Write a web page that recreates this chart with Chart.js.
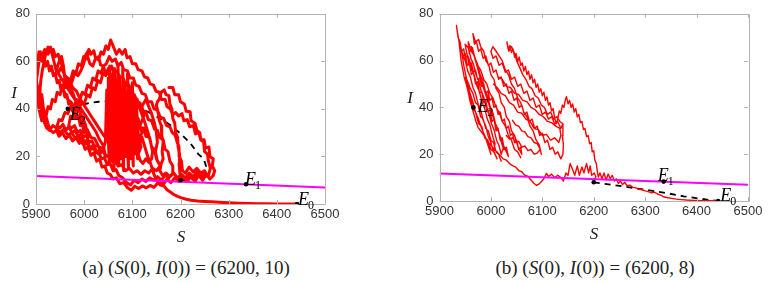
<!DOCTYPE html>
<html><head><meta charset="utf-8">
<script src="https://cdn.jsdelivr.net/npm/chart.js@4"></script>
<style>
html,body{margin:0;padding:0;background:#fff;}
#wrap{position:relative;width:771px;height:282px;background:#fff;overflow:hidden;}
canvas{position:absolute;top:0;}
.t{position:absolute;transform:translate(-50%,-50%);font-family:'Liberation Serif',serif;color:#222;white-space:nowrap;line-height:1;}
.ax{font-size:17px;font-style:italic;}
.cap{font-size:19px;}
</style></head><body>
<div id="wrap">
<canvas id="ca" width="345" height="230" style="left:0px"></canvas>
<canvas id="cb" width="380" height="230" style="left:390px"></canvas>
<div class="t ax" style="left:14px;top:92px">I</div>
<div class="t ax" style="left:181px;top:236px">S</div>
<div class="t ax" style="left:410px;top:97px">I</div>
<div class="t ax" style="left:594px;top:233px">S</div>
<div class="t cap" style="left:186px;top:267px">(a) (<i>S</i>(0), <i>I</i>(0)) = (6200, 10)</div>
<div class="t cap" style="left:595px;top:267px">(b) (<i>S</i>(0), <i>I</i>(0)) = (6200, 8)</div>
</div>
<script>
// ---- data ----
const xTicks = [5900, 6000, 6100, 6200, 6300, 6400, 6500];
const yTicks = [0, 20, 40, 60, 80];
const eqS = [6442, 6336, 5966];
const eqI = [0, 8.3, 40];
const eqSub = ['0', '1', '2'];
const magS = [5900, 6500];
const magI = [11.8, 6.9];
const startA = [6200, 10];
const startB = [6200, 8];
const dashA = [[6200,10],[6215,10],[6230,10.5],[6244,11.5],[6252,13.5],[6253,16],[6248,19],[6237,21],[6220,25.7],[6199,29.8],[6178,33.3],[6157,36],[6126,39.5],[6100,41.5],[6075,42.8],[6050,43.2],[6030,43],[6010,42.5],[5988,41.3],[5966,40]];
const dashB = [[6200,8],[6225,7.2],[6250,6.5],[6276,5.6],[6300,4.8],[6325,4],[6348,3.1],[6375,2],[6407,1],[6425,0.4],[6442,0]];
const trajA = [
[6200,10],[6207,11.5],[6214,9.5],[6222,11.5],[6230,9.5],[6238,12],[6246,10],[6254,12.5],[6261,10.5],[6268,12],[6271,14],
[6266,16],[6268,19],[6261,20],[6259,24],[6252,23.5],[6249,27],[6242,27],[6238,30],[6231,29.5],[6227,33],[6219,32.5],[6214,35.5],[6207,35],[6203,38],[6196,37],[6190,38.5],[6184,37.5],[6179,40],[6172,41],[6168,44],[6160,44],[6156,47],[6149,47.5],[6144,50],[6137,50.5],[6132,53],[6125,53.5],[6120,56],[6112,56.5],[6107,59],[6100,59],[6095,62],[6089,61.5],[6085,65],[6079,63],[6073,65],[6067,63],[6061,66],[6055,69],[6050,65],
[6045,66.5],[6040,63],[6035,64],[6030,60.5],[6024,61.5],[6018,58],[6012,59],[6007,62],[6010,65],[6004,63],[5999,59],[5993,56],[5987,54],[5980,55],[5974,51],[5968,52],[5962,49],[5957,58],[5953,62],[5948,60],[5942,56],[5936,61],[5930,66],[5925,63],[5918,65],[5912,62],[5906,64],[5903,58],[5901,52],[5904,48],[5908,44],[5912,46],[5915,41],[5918,38],[5922,36],[5926,33],[5930,31],
[5936,30],[5942,31],[5948,28.5],[5955,30],[5962,27.5],[5969,29],[5976,26.5],[5983,28],[5990,25.5],[5996,27],[6002,23],[6008,24],[6014,20.5],[6020,21.5],[6026,18],[6032,19],[6037,15.5],[6043,16],[6048,13],[6054,12.5],[6060,10.5],[6067,11],[6074,8.5],[6082,9],[6090,6.8],[6098,5.8],[6105,7.5],[6113,6.5],[6121,7.6],[6129,6.8],[6137,7.8],[6145,7],[6152,8.6],[6158,9.4],[6165,8.5],[6172,10.5],[6180,9],[6188,11],[6196,9.6],[6204,12],[6212,10],[6220,12.5],[6228,10.5],[6236,13],[6243,11],[6250,13.5],[6256,11.5],
[6250,14],[6242,13],[6234,15],[6226,13.5],[6218,15.5],[6210,13],[6204,14],[6202,18],[6198,20],[6197,24],[6193,26],[6189,29],[6183,30],[6178,32.5],[6171,33],[6165,36],[6158,36.5],[6152,39.5],[6145,40],[6140,43],[6132,43],[6127,46],[6120,46.5],[6114,49.5],[6107,50],[6102,53],[6095,53],[6090,56],[6082,56.5],[6077,59.5],[6070,58],[6065,61],[6058,60],[6052,62],[6046,59],
[6040,58],[6035,55],[6029,56],[6024,52],[6018,53],[6013,49],[6007,50],[6002,46],[5996,47],[5990,43],[5984,44],[5978,40],[5972,41],[5966,38],[5960,38.5],[5954,35],[5948,35.5],[5944,33],
[5950,32],[5956,33.5],[5962,31],[5968,32.5],[5975,30],[5981,31],[5987,28.5],[5994,29.5],[6000,26],[6006,27],[6012,23.5],[6018,24.5],[6024,21.5],[6030,22],[6036,19],[6042,19.5],[6048,16.5],[6054,17],[6060,14],[6066,14.5],[6072,12],[6080,11],[6088,9],[6096,8],[6104,10],[6112,9],[6120,10.5],[6128,9.5],[6136,11],[6144,10],[6152,11.5],[6160,10],[6168,12],[6176,11],[6184,13],
[6184,16],[6178,18],[6174,22],[6168,23],[6164,27],[6157,28],[6152,31],[6146,31.5],[6140,35],[6133,35.5],[6128,39],[6121,39],[6116,42.5],[6110,43],[6104,46],[6098,46.5],[6093,50],[6086,50],[6081,53],[6074,53.5],[6068,56],[6062,55],[6057,58],[6050,57],
[6045,54],[6039,55],[6034,51],[6028,52],[6023,48],[6017,49],[6012,45],[6006,46],[6000,42],[5994,43],[5989,39],[5983,40],[5978,36],[5972,37],[5968,33],
[5974,32],[5980,33],[5986,30],[5992,31],[5998,28],[6004,29],[6010,26],[6016,26.5],[6022,24],[6028,25],[6034,22],[6040,22.5],[6046,20],[6052,20.5],[6058,18],[6064,18.5],[6070,16],[6078,16.5],[6086,14],[6094,15],[6102,13],[6110,14],[6118,12.5],[6126,14],[6134,13],[6142,15],[6150,14],[6158,16],
[6150,19],[6146,23],[6140,24],[6136,28],[6128,28.5],[6124,32],[6116,32],[6112,36],[6105,36],[6100,40],[6092,40],[6088,44],[6080,44.5],[6075,48],[6068,48],[6063,52],[6056,52],[6051,55],[6044,55],[6040,58],[6034,58.5],[6030,62],[6024,61],[6020,64.5],[6014,63],[6010,65],[6004,61],[5999,62],[5994,58],[5988,59],[5983,55],[5977,56],[5972,52],[5966,53],[5961,49],[5955,50],[5950,46],[5944,47],[5940,43],[5934,44],[5930,40],[5925,41],[5921,37],[5916,38],[5912,35],
[5906,40],[5903,46],[5901,52],[5905,58],[5909,64],[5913,60],[5916,62],[5920,58],[5924,60],[5928,56],[5932,58],[5936,54],[5940,55],[5944,51],[5948,52],[5952,48],[5956,49],[5960,45],[5964,46],[5968,42],[5972,43],[5976,39],[5980,40],[5984,36],[5988,37],[5992,33],[5996,34],[6000,30],[6004,31],[6008,28],
[6003,33],[5998,36],[5992,38],[5987,42],[5981,44],[5976,47],[5970,49],[5965,52],[5959,54],[5955,58],[5950,60],[5946,63],[5940,62],[5936,65],[5930,64],[5925,66],[5920,63],[5917,60],[5913,56],[5910,52],[5908,47],[5911,42],[5914,38],[5918,34],[5922,32],[5928,31],
[5935,33],[5942,32],[5950,30],[5958,31.5],[5966,29],[5974,30],[5982,27.5],[5990,28],[5998,25],[6006,25.5],[6014,23],[6022,23.5],[6030,21],[6038,22],
[6044,26],[6047,48],[6052,17],[6050,53],[6057,19],[6053,58],[6062,14],[6060,55],[6066,18],[6063,57],[6072,16],[6070,59],[6076,19],[6073,54],[6082,14],[6080,57],[6086,20],[6083,52],[6092,15],[6090,55],[6096,19],[6093,50],[6102,16],[6100,51],[6106,21],[6103,46],[6111,19],[6108,43],[6114,24],
[6120,28],[6126,24],[6132,20],[6138,17],[6144,13],[6150,10],[6158,8],[6166,7.5],[6172,6],[6178,5.2],[6186,4],[6194,3.2],[6202,2.6],[6212,2],[6222,1.6],[6235,1.3],[6250,1.1],[6265,0.9],[6280,0.7],[6300,0.5],[6320,0.35],[6340,0.25],[6360,0.15],[6380,0.1],[6400,0.05],[6420,0.02],[6442,0],
null,
[6199,12.7],[6197,17],[6198,21],[6195,24],[6194,28],[6190,30],[6188,34],[6184,36],[6182,40],[6178,42],[6176,45.6],[6170,46],[6166,48],[6160,47],[6156,44],[6152,43],[6150,41.5],[6154,38],[6156,35],[6160,33],[6161,29],[6164,26],[6162,22],[6164,19],[6160,17],[6157,14],[6163,12],[6170,13],[6178,11.5],[6186,13],[6194,11],[6202,12.5],[6210,11],[6218,13],[6226,11.5],[6234,13.5],[6242,12],[6250,13],[6258,12],[6262,15],[6258,18],[6256,21],[6250,22],[6248,26],[6242,27],[6240,30],[6234,31],[6230,34],[6222,35],[6220,38.8],[6212,39],[6208,42],[6200,43],[6196,46],[6188,46],[6184,49],[6176,49],
null,
[5950,50],[5958,47.5],[5966,44],[5974,42.5],[5982,38],[5990,36.5],[5998,33],[6006,31.5],[6014,28],[6022,27.5],[6030,24],[6038,23.5],[6044,20],
[6040,24.5],[6032,27],[6024,30.5],[6016,33],[6008,35.5],[6000,38],[5992,40.5],[5984,43],[5976,45.5],[5968,48],[5960,50.5],[5952,53],[5946,55],
[5952,57.5],[5960,54],[5968,52.5],[5976,49],[5984,47.5],[5992,44],[6000,41.5],[6008,39],[6016,36.5],[6024,34],[6032,31.5],[6040,29],[6046,27.5],
null,
[6110,44],[6116,40],[6122,36.5],[6128,33],[6134,29],[6138,26],[6142,22],[6140,19],[6134,17.5],[6128,19],[6122,17],[6116,18.5],[6112,21],[6118,24],[6114,27],[6120,30],[6116,33],[6124,37],[6120,41],[6128,44],[6134,41],[6140,38],[6146,34],[6150,30],[6152,26],[6148,22],[6152,18]
];
const trajB = [
[6200,8],[6204,10.5],[6201,12],[6196,11],[6193,15],[6190,12],[6186,16],[6181,12],[6177,14.5],[6172,11],[6168,15],[6163,11],[6158,14],[6154,16],[6150,11],[6146,12],[6141,8.5],[6136,10],[6130,11],[6124,10],[6118,11.5],[6112,10.5],[6108,11.8],[6103,9.5],[6097,8],[6093,7.2],[6089,6.7],[6084,7.5],[6078,9],[6072,10.5],[6066,11],[6060,12.5],[6054,13],[6048,14.5],[6043,15],
[6036,16],[6030,17.5],[6024,18],[6018,19.5],[6012,21],[6006,22],[6000,24],[5995,25],[5990,27],[5985,28.5],[5980,30],[5975,31.5],[5971,34],[5967,37],[5963,40],[5959,43],[5956,46.5],[5952,50],[5948,53],[5945,56.5],[5942,60],[5940,64],[5938,68],[5935,72],[5933,75],
[5936,70],[5940,68],[5943,64],[5947,65],[5950,61],[5954,62],[5958,58],[5962,59],[5966,55],[5970,56],[5974,52],[5978,52.5],[5982,49],[5986,50],[5990,46],[5994,47],[5998,43],[6002,44],[6006,40],[6010,41],[6014,37],[6018,38],[6022,34],[6026,35],[6030,31],[6034,32],[6038,28],[6042,29],[6046,25],[6050,26],[6054,22],[6058,23],[6060,20],
[6055,22],[6050,25],[6046,28],[6040,30],[6036,34],[6030,36],[6026,40],[6020,42],[6016,46],[6010,48],[6006,52],[6000,54],[5996,58],[5990,60],[5986,64],[5980,66],[5976,69],[5970,68],[5965,71.5],
[5968,67],[5972,68],[5976,64],[5980,65],[5985,61],[5990,62],[5995,58],[6000,59],[6005,55],[6010,56],[6015,52],[6020,53],[6025,49],[6030,50],[6035,46],[6040,47],[6045,43],[6050,44],[6055,40],[6060,41],[6065,37],[6070,38],[6075,34],[6080,35],[6085,31],[6090,32],[6095,28],[6100,29],[6105,25],[6110,26],[6115,22],[6120,23],[6125,20],[6130,21],[6136,18],[6140,20],
[6141,24],[6139,28],[6140,33],[6134,34],[6128,36],[6122,35],[6116,38],[6110,37],[6104,40],[6098,41],[6092,44],[6086,45],[6080,48],[6074,49],[6068,52],[6062,54],[6056,57],[6050,60],[6046,63],[6040,66],[6035,64],[6031,68],
[6034,64.5],[6037,66.5],[6040,63.5],[6043,65],[6046,61.5],[6049,63],[6052,59.5],[6055,61.5],[6058,58],[6061,59],[6064,55.5],[6067,57.5],[6070,54],[6073,55.5],[6076,52],[6079,54],[6082,50.5],[6085,52],[6088,48.5],[6091,50],[6094,46.5],[6097,48],[6100,45],[6103,46.5],[6106,43],[6109,44.5],[6112,41],[6115,42],[6118,38.5],[6121,39.5],[6124,35.5],[6127,33],[6130,35],[6133,38.5],[6136,37.5],[6139,41],[6142,40],[6145,43.5],[6147,44.6],[6150,41.5],[6153,43],[6156,40],[6159,41.5],[6162,38],[6165,39.5],[6168,36],[6171,37],[6174,33.5],[6177,34],[6180,30.5],[6183,31],[6186,27.5],[6189,28],[6192,24.5],[6195,25],[6197,21],[6200,21.5],[6202,17.5],[6205,16],[6207,12.5],[6209,10.2],
[6212,12],[6216,9.5],[6220,12],[6224,9],[6228,11.5],[6232,9.5],[6236,11],[6240,8.5],[6244,9.5],[6248,7.5],[6252,8.5],[6256,7],[6260,8],[6265,6.5],[6270,6.8],[6276,5.8],[6282,5.6],[6288,5],[6294,4.8],[6300,4.3],[6306,4],[6312,3.5],[6318,3.8],[6324,3],[6330,2.5],[6336,1.8],[6344,1.4],[6352,1.1],[6360,0.8],[6370,0.6],[6380,0.4],[6395,0.25],[6410,0.15],[6425,0.08],[6442,0],
null,
[6000,20],[5994,24],[5988,28],[5982,31],[5976,35],[5970,38],[5964,43],[5958,47],[5953,52],[5948,57],[5945,61],[5942,65],[5946,62],[5950,63],[5954,58],[5958,59],[5962,54],[5966,55],[5970,50],[5974,51],[5978,46],[5982,47],[5986,42],[5990,43],[5994,38],[5998,39],[6002,34],[6006,35],[6010,30],[6014,31],[6018,26],[6022,27],[6026,22],[6030,23],[6034,19],[6028,22],[6022,25],[6016,29],[6010,32],[6004,36],[5998,40],[5992,44],[5986,48],[5980,52],[5975,56],[5970,60],[5966,63],[5962,66],[5958,63],[5956,68],[5962,64],[5968,62],[5974,58],[5980,56],[5986,52],[5992,50],[5998,46],[6004,44],[6010,40],[6016,38],[6022,34],[6028,32],[6034,28],[6040,26],[6046,22],[6052,21],[6058,18.5],
null,
[6098,20],[6094,24],[6088,26],[6082,30],[6076,32],[6070,36],[6064,38],[6058,42],[6052,44],[6046,48],[6040,50],[6034,54],[6028,56],[6022,60],[6016,62],[6010,64],[6004,66],[6000,64],[6004,61],[6010,62],[6016,58],[6022,59],[6028,55],[6034,56],[6040,52],[6046,53],[6052,49],[6058,50],[6064,46],[6070,47],[6076,43],[6082,44],[6088,40],[6094,41],[6100,37],[6106,38],[6112,35],[6118,36],[6124,33],[6130,34],[6136,31],[6140,33],
null,
[6012,18],[6006,21],[6000,22],[5994,26],[5988,27],[5982,32],[5976,33],[5970,38],[5964,40],[5960,45],[5955,48],[5951,53],[5955,51],[5960,48],[5965,46],[5970,42],[5975,41],[5980,36],[5985,35],[5990,31],[5995,30],[6000,26],[6005,25],[6010,21],[6015,20],[6020,17],
null,
[5945,62],[5950,60],[5955,55.5],[5960,53],[5965,48.5],[5970,46],[5975,41.5],[5980,39],[5985,34.5],[5990,32],[5995,27.5],[6000,25],[6005,21],
[6008,24.5],[6003,28],[5998,32.5],[5993,35],[5988,39.5],[5983,42],[5978,46.5],[5973,49],[5968,53.5],[5963,56],[5958,60.5],[5953,63],[5950,67],
[5956,65.5],[5961,61],[5966,58.5],[5971,54],[5976,51.5],[5981,47],[5986,44.5],[5991,40],[5996,37.5],[6001,33],[6006,30.5],[6011,26],[6016,23.5],[6020,20],
[6024,22.5],[6019,26],[6014,30.5],[6009,33],[6004,37.5],[5999,40],[5994,44.5],[5989,47],[5984,51.5],[5979,54],[5974,58.5],[5969,61],[5964,65.5],
null,
[6005,50],[6012,48.5],[6020,46],[6028,45],[6036,42],[6044,41],[6052,38],[6060,37.5],[6068,35],[6076,34],[6084,31],[6092,30.5],[6100,28],[6108,28.5],[6116,26],[6124,27],[6132,25],[6136,28],[6134,31],[6126,32],[6118,33.5],[6110,34],[6102,36],[6094,37],[6086,39],[6078,40],[6070,42.5],[6062,43],[6054,45.5],[6046,46],[6038,48.5],[6030,49],[6022,52],[6014,53],
null,
[6030,28],[6036,26.5],[6042,27],[6048,25],[6054,25.5],[6060,23],[6066,23.5],[6072,21.5],[6078,22],[6084,20],[6090,20.5],[6096,22],[6090,24.5],[6084,25],[6078,27],[6072,27.5],[6066,29.5],[6060,30],[6054,32],[6048,32.5],[6042,34.5]
];

// ---- helpers ----
const toPts = arr => arr.map(p => p ? {x: p[0], y: p[1]} : {x: null, y: null});

const framePlugin = {
  id: 'frame',
  afterDraw(chart) {
    const {ctx, chartArea: a, scales} = chart;
    const xs = scales.x, ys = scales.y;
    ctx.save();
    ctx.strokeStyle = '#b3b3b3';
    ctx.lineWidth = 1;
    ctx.beginPath();
    ctx.rect(Math.round(a.left) + 0.5, Math.round(a.top) + 0.5, Math.round(a.right - a.left), Math.round(a.bottom - a.top));
    const tl = 4;
    xTicks.forEach(v => {
      const px = Math.round(xs.getPixelForValue(v)) + 0.5;
      ctx.moveTo(px, a.bottom); ctx.lineTo(px, a.bottom - tl);
      ctx.moveTo(px, a.top); ctx.lineTo(px, a.top + tl);
    });
    yTicks.forEach(v => {
      const py = Math.round(ys.getPixelForValue(v)) + 0.5;
      ctx.moveTo(a.left, py); ctx.lineTo(a.left + tl, py);
      ctx.moveTo(a.right, py); ctx.lineTo(a.right - tl, py);
    });
    ctx.stroke();
    ctx.restore();
  }
};

const eqLabelPlugin = {
  id: 'eqLabels',
  afterDraw(chart, args, opts) {
    const {ctx, scales} = chart;
    ctx.save();
    ctx.fillStyle = '#000';
    ctx.textBaseline = 'alphabetic';
    ctx.textAlign = 'left';
    eqS.forEach((s, i) => {
      const px = scales.x.getPixelForValue(s) + opts.off[i][0];
      const py = scales.y.getPixelForValue(eqI[i]) + opts.off[i][1];
      ctx.font = 'italic 18px "Liberation Serif"';
      ctx.fillText('E', px, py);
      const w = ctx.measureText('E').width;
      ctx.font = '12px "Liberation Serif"';
      ctx.fillText(eqSub[i], px + w - 1, py + 4);
    });
    ctx.restore();
  }
};

const tickFont = {family: '"Liberation Sans", Arial, sans-serif', size: 13};

function makeChart(id, traj, dash, start, lw, axisW, axisH, padRight, offs) {
  const dots = eqS.map((s, i) => ({x: s, y: eqI[i]}));
  dots.push({x: start[0], y: start[1]});
  return new Chart(document.getElementById(id), {
    type: 'scatter',
    data: {
      datasets: [
        {data: dots, order: 0, pointRadius: 2.3, pointBackgroundColor: '#000', pointBorderWidth: 0, showLine: false},
        {data: magS.map((s, i) => ({x: s, y: magI[i]})), order: 1, showLine: true, borderColor: '#ff00ff', borderWidth: 2, pointRadius: 0},
        {data: toPts(traj), order: 2, showLine: true, borderColor: '#ff0000', borderWidth: lw, pointRadius: 0, tension: 0, spanGaps: false, borderJoinStyle: 'round', borderCapStyle: 'round'},
        {data: toPts(dash), order: 3, showLine: true, borderColor: '#000', borderWidth: 1.8, borderDash: [6, 5], pointRadius: 0, tension: 0}
      ]
    },
    options: {
      responsive: false, animation: false, devicePixelRatio: 1,
      layout: {padding: {top: 11, right: padRight, left: 0, bottom: 0}},
      plugins: {legend: {display: false}, tooltip: {enabled: false}, eqLabels: {off: offs}},
      scales: {
        x: {
          type: 'linear', min: 5900, max: 6500,
          afterBuildTicks: s => { s.ticks = xTicks.map(v => ({value: v})); },
          ticks: {color: '#333', font: tickFont, padding: 3, maxRotation: 0, autoSkip: false, callback: v => String(v)},
          grid: {display: false, drawTicks: false}, border: {display: false},
          afterFit: s => { s.height = axisH; }
        },
        y: {
          type: 'linear', min: 0, max: 80,
          afterBuildTicks: s => { s.ticks = yTicks.map(v => ({value: v})); },
          ticks: {color: '#333', font: tickFont, padding: 6, autoSkip: false, callback: v => String(v)},
          grid: {display: false, drawTicks: false}, border: {display: false},
          afterFit: s => { s.width = axisW; }
        }
      }
    },
    plugins: [framePlugin, eqLabelPlugin]
  });
}

makeChart('ca', trajA, dashA, startA, 3, 36, 26, 20, [[1, 1], [-1, 1], [2, 11]]);
makeChart('cb', trajB, dashB, startB, 1.4, 49.5, 29, 22, [[2, 0], [-6, -1], [4, 5]]);
</script>
</body></html>
